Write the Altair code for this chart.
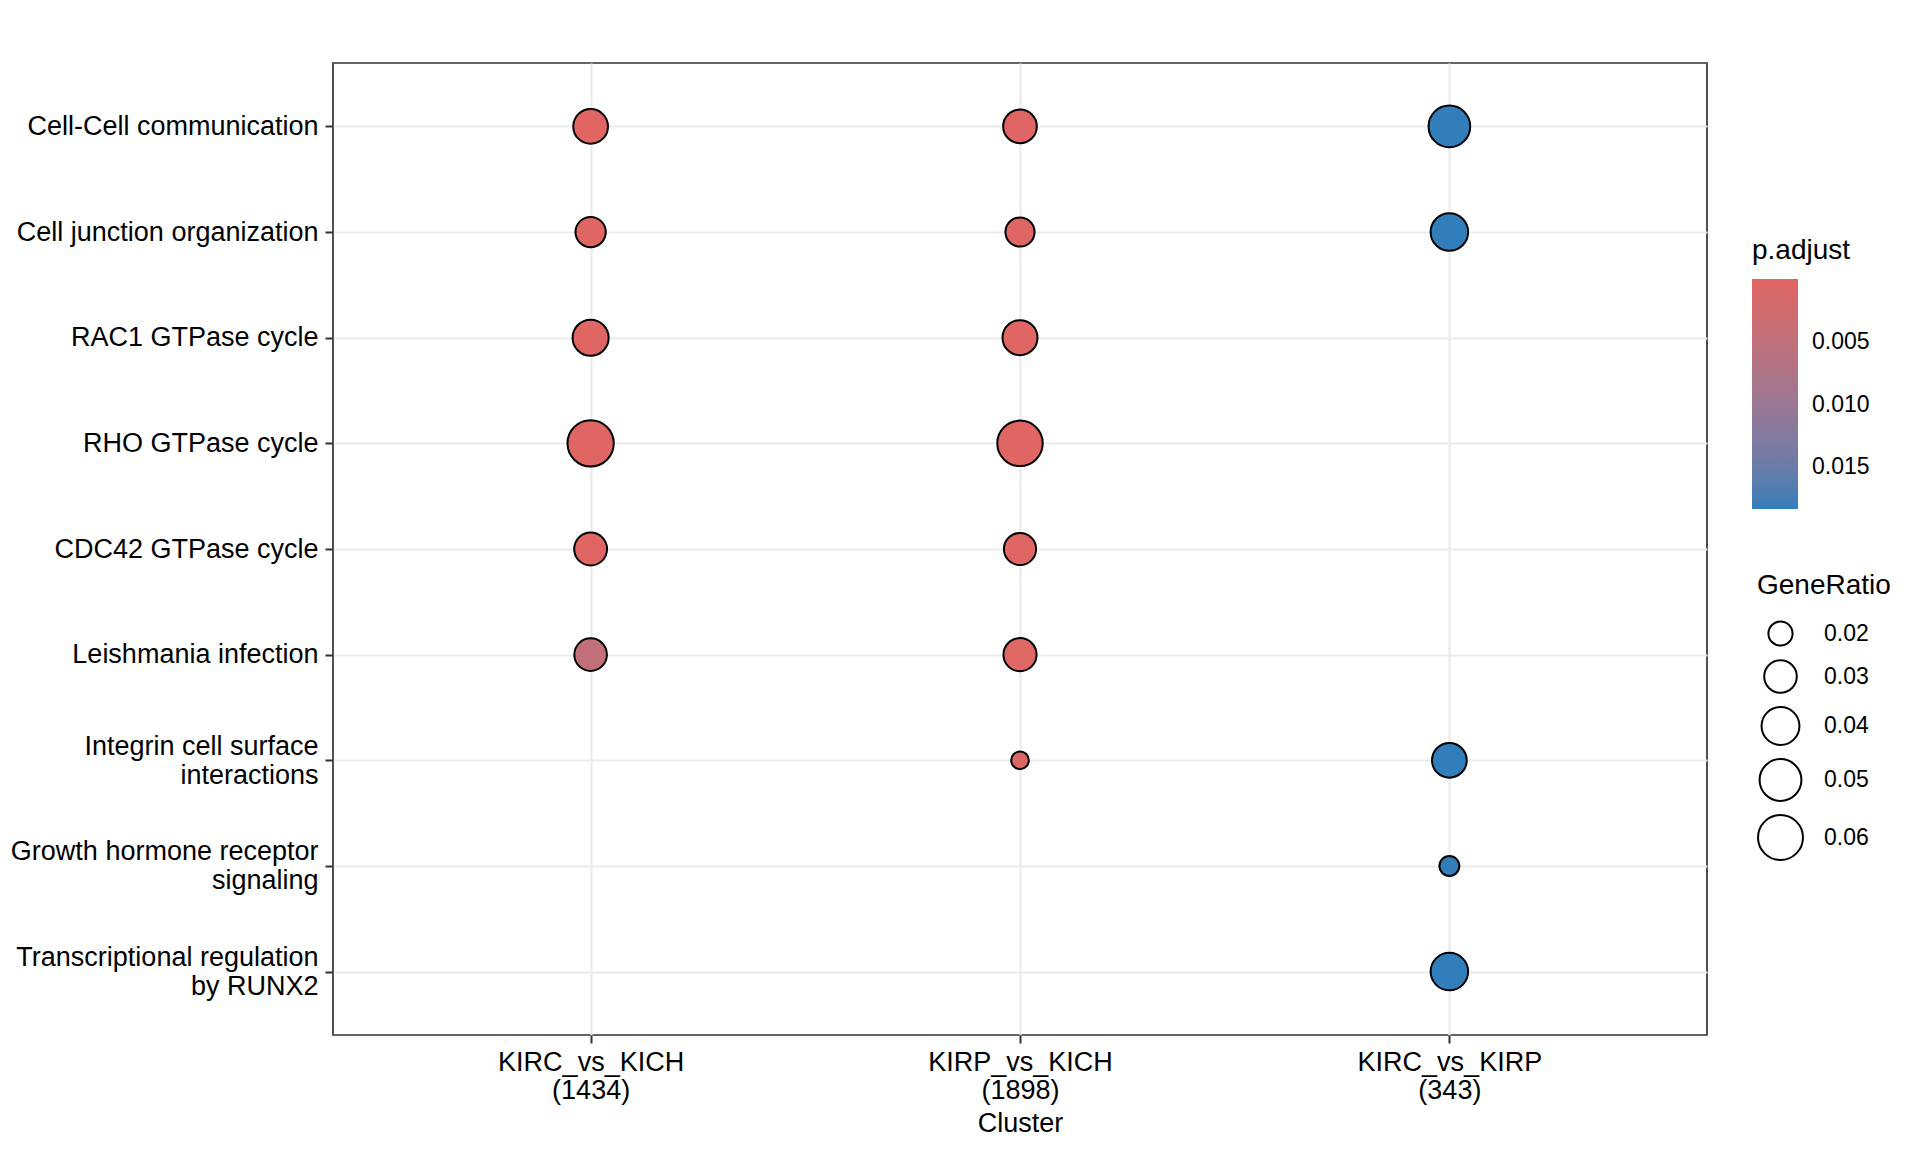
import altair as alt
import pandas as pd

# ---- data ----
terms = [
    "Cell-Cell communication",
    "Cell junction organization",
    "RAC1 GTPase cycle",
    "RHO GTPase cycle",
    "CDC42 GTPase cycle",
    "Leishmania infection",
    "Integrin cell surface\ninteractions",
    "Growth hormone receptor\nsignaling",
    "Transcriptional regulation\nby RUNX2",
]
clusters = ["KIRC_vs_KICH\n(1434)", "KIRP_vs_KICH\n(1898)", "KIRC_vs_KIRP\n(343)"]

kirc_kich_ratio = [0.0336, 0.0267, 0.0362, 0.0649, 0.0305, 0.0300, None, None, None]
kirp_kich_ratio = [0.0318, 0.0252, 0.0342, 0.0618, 0.0294, 0.0309, 0.0155, None, None]
kirc_kirp_ratio = [0.0496, 0.0392, None, None, None, None, 0.0336, 0.0168, 0.0392]

kirc_kich_p = [6e-5, 1.2e-4, 4e-5, 2.4e-5, 9e-5, 0.0048, None, None, None]
kirp_kich_p = [1.5e-4, 3e-4, 8e-5, 3e-5, 1.1e-4, 2.5e-4, 4.5e-4, None, None]
kirc_kirp_p = [0.0183, 0.0183, None, None, None, None, 0.0183, 0.0183, 0.0183]

size_ticks = [0.02, 0.03, 0.04, 0.05, 0.06]
color_ticks = [0.005, 0.010, 0.015]

rows = []
for cl, ratios, ps in zip(clusters,
                          [kirc_kich_ratio, kirp_kich_ratio, kirc_kirp_ratio],
                          [kirc_kich_p, kirp_kich_p, kirc_kirp_p]):
    for t, r, p in zip(terms, ratios, ps):
        if r is not None:
            rows.append({"Cluster": cl, "Description": t, "GeneRatio": r, "padj": p})
df = pd.DataFrame(rows)

FONT = "Liberation Sans"
W, H = 1374, 972

p_min, p_max = float(df["padj"].min()), float(df["padj"].max())
g_min, g_max = float(df["GeneRatio"].min()), float(df["GeneRatio"].max())

chart = alt.Chart(df).mark_point(
    filled=True, shape="circle", stroke="black", strokeWidth=2, opacity=1
).encode(
    x=alt.X("Cluster:N", sort=clusters, title="Cluster",
            scale=alt.Scale(type="point", padding=0.6),
            axis=alt.Axis(labelAngle=0, labelExpr="split(datum.label, '\\n')",
                          labelLineHeight=28, labelPadding=6, titlePadding=7,
                          labelAlign="center", labelBaseline="top", labelLimit=0)),
    y=alt.Y("Description:N", sort=terms, title=None,
            scale=alt.Scale(type="point", padding=0.6),
            axis=alt.Axis(labelExpr="split(datum.label, '\\n')",
                          labelLineHeight=29, labelPadding=7, labelLimit=0,
                          labelOffset={"condition": {"test": "indexof(datum.value, '\\n') >= 0",
                                                     "value": -14},
                                       "value": 0},
                          labelAlign="right", labelBaseline="middle")),
    fill=alt.Fill("padj:Q",
                  scale=alt.Scale(domain=[p_max, p_min],
                                  range=["#327eba", "#e06663"], interpolate="lab"),
                  legend=alt.Legend(orient="none", legendX=1419, legendY=174,
                                    title="p.adjust", direction="vertical",
                                    gradientLength=230, gradientThickness=46,
                                    gradientStrokeWidth=0,
                                    values=color_ticks, format=".3f",
                                    labelOffset=14, titlePadding=14)),
    size=alt.Size("GeneRatio:Q",
                  scale=alt.Scale(type="pow", exponent=0.3,
                                  domain=[g_min, g_max],
                                  range=[313, 2144]),
                  legend=alt.Legend(orient="none", legendX=1424, legendY=509,
                                    title="GeneRatio", values=size_ticks, format=".2f",
                                    symbolType="circle",
                                    symbolFillColor="transparent",
                                    symbolStrokeColor="black", symbolStrokeWidth=2,
                                    labelOffset=20, titlePadding=20, rowPadding=6)),
).properties(
    width=W, height=H,
    autosize=alt.AutoSizeParams(type="none"),
    padding={"left": 325, "top": 55, "right": 205, "bottom": 109},
    background="white",
).configure_view(
    stroke="#333333", strokeWidth=1.7
).configure_axis(
    domain=False, grid=True, gridColor="#EBEBEB", gridWidth=2.2,
    tickColor="#333333", tickWidth=2, tickSize=8,
    labelFont=FONT, labelFontSize=27, labelColor="black",
    titleFont=FONT, titleFontSize=27, titleColor="black", titleFontWeight="normal",
).configure_legend(
    titleFont=FONT, titleFontSize=28, titleFontWeight="normal", titleColor="black",
    labelFont=FONT, labelFontSize=23, labelColor="black", padding=0,
)

chart.save("out.html", embed_options={"renderer": "svg", "actions": False})
